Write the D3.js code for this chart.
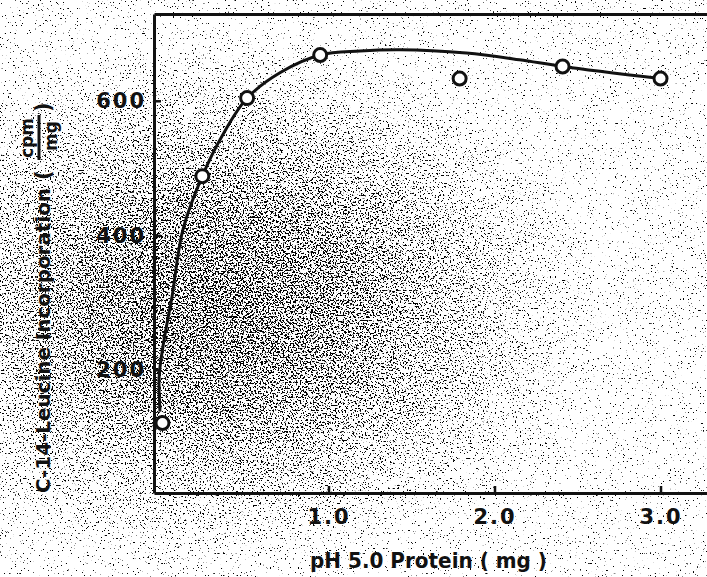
<!DOCTYPE html>
<html>
<head>
<meta charset="utf-8">
<script src="https://cdn.jsdelivr.net/npm/d3@7"></script>
<style>
  html, body { margin: 0; padding: 0; background: #fff; }
  svg { display: block; }
  .lbl { font-family: "DejaVu Sans", "Liberation Sans", sans-serif; font-weight: bold; fill: #111; }
</style>
</head>
<body>
<div id="chart"></div>
<script>
// measured points: pH 5.0 protein (mg) vs C-14 leucine incorporation (cpm/mg)
var protein = [0.0, 0.24, 0.51, 0.95, 1.79, 2.41, 3.0];
var cpm = [121, 488, 604, 668, 633, 651, 633];

// hand-drawn smooth curve, read along its path
var curveX = [-0.015, -0.02, 0.0, 0.02, 0.057, 0.123, 0.24, 0.36, 0.51, 0.71, 0.95, 1.19, 1.43, 1.83, 2.15, 2.41, 3.0];
var curveY = [138, 190, 230, 259, 308, 408, 488, 548, 604, 642, 668, 674, 676, 671, 661, 651, 633];

var xTicks = [1.0, 2.0, 3.0];
var yTicks = [200, 400, 600];

var W = 707, H = 577,
    margin = {top: 14, right: 0, bottom: 84, left: 154},
    width = W - margin.left - margin.right,
    height = H - margin.top - margin.bottom;

var svg = d3.select("#chart").append("svg")
    .attr("width", W)
    .attr("height", H);

// scanned-paper speckle (decoration only)
var defs = svg.append("defs");
var grad = defs.append("radialGradient")
    .attr("id", "shade")
    .attr("gradientUnits", "userSpaceOnUse")
    .attr("cx", 0).attr("cy", 0).attr("r", 1)
    .attr("gradientTransform", "translate(225,305) scale(380,270)");
[[0, 0.74], [0.35, 0.78], [0.7, 0.87], [1, 0.95]].forEach(function (s) {
    var v = Math.round(s[1] * 255);
    grad.append("stop").attr("offset", s[0]).attr("stop-color", d3.rgb(v, v, v));
});
var f = defs.append("filter")
    .attr("id", "speck")
    .attr("filterUnits", "userSpaceOnUse")
    .attr("x", 0).attr("y", 0).attr("width", W).attr("height", H)
    .attr("color-interpolation-filters", "sRGB");
f.append("feTurbulence").attr("type", "fractalNoise").attr("baseFrequency", 0.6)
    .attr("numOctaves", 2).attr("seed", 7).attr("result", "noise");
f.append("feColorMatrix").attr("in", "noise").attr("type", "matrix")
    .attr("values", "1 0 0 0 0  1 0 0 0 0  1 0 0 0 0  0 0 0 0 1").attr("result", "grey");
f.append("feComposite").attr("in", "grey").attr("in2", "SourceGraphic")
    .attr("operator", "arithmetic").attr("k1", 0).attr("k2", 1).attr("k3", 1).attr("k4", -1)
    .attr("result", "sum");
f.append("feColorMatrix").attr("in", "sum").attr("type", "matrix")
    .attr("values", "0 0 0 0 0  0 0 0 0 0  0 0 0 0 0  -20 0 0 0 5");
svg.append("rect").attr("width", W).attr("height", H)
    .attr("fill", "url(#shade)").attr("filter", "url(#speck)");

var g = svg.append("g")
    .attr("transform", "translate(" + margin.left + "," + margin.top + ")");

var x = d3.scaleLinear().domain([-0.051, 3.28]).range([0, width]);
var y = d3.scaleLinear().domain([17, 729]).range([height, 0]);

function styleAxis(sel) {
    sel.select(".domain").attr("stroke", "#111").attr("stroke-width", 3);
    sel.selectAll(".tick line").attr("stroke", "#111").attr("stroke-width", 2.5);
    sel.selectAll(".tick text")
        .attr("class", "lbl")
        .style("font-size", "21px")
        .style("letter-spacing", "2px");
}

g.append("g")
    .call(d3.axisTop(x).tickValues([]).tickSizeOuter(0))
    .call(styleAxis);

g.append("g")
    .attr("transform", "translate(0," + height + ")")
    .call(d3.axisBottom(x).tickValues(xTicks).tickFormat(d3.format(".1f"))
        .tickSizeInner(-7).tickSizeOuter(0).tickPadding(16))
    .call(styleAxis);

g.append("g")
    .call(d3.axisLeft(y).tickValues(yTicks).tickFormat(d3.format("d"))
        .tickSizeInner(-7).tickSizeOuter(0).tickPadding(8))
    .call(styleAxis);

var line = d3.line()
    .x(function (d) { return x(d[0]); })
    .y(function (d) { return y(d[1]); })
    .curve(d3.curveCatmullRom.alpha(0.5));

g.append("path")
    .datum(d3.zip(curveX, curveY))
    .attr("fill", "none")
    .attr("stroke", "#111")
    .attr("stroke-width", 3)
    .attr("d", line);

g.selectAll(".pt")
    .data(d3.zip(protein, cpm))
    .enter().append("circle")
    .attr("class", "pt")
    .attr("cx", function (d) { return x(d[0]); })
    .attr("cy", function (d) { return y(d[1]); })
    .attr("r", 6.5)
    .attr("fill", "#fff")
    .attr("stroke", "#111")
    .attr("stroke-width", 3);

// x title
svg.append("text")
    .attr("class", "lbl")
    .attr("x", 310).attr("y", 568)
    .attr("textLength", 237).attr("lengthAdjust", "spacingAndGlyphs")
    .style("font-size", "21px")
    .text("pH 5.0  Protein ( mg )");

// y title, rotated, with cpm/mg fraction
var yt = svg.append("g").attr("transform", "translate(50,493) rotate(-90)");
yt.append("text").attr("class", "lbl")
    .attr("x", 0).attr("y", 0)
    .attr("textLength", 305).attr("lengthAdjust", "spacingAndGlyphs")
    .style("font-size", "20px")
    .text("C-14-Leucine Incorporation");
yt.append("text").attr("class", "lbl")
    .attr("x", 313).attr("y", 0)
    .style("font-size", "21px")
    .text("(");
yt.append("text").attr("class", "lbl")
    .attr("x", 355).attr("y", -17)
    .attr("text-anchor", "middle")
    .style("font-size", "17px")
    .text("cpm");
yt.append("line")
    .attr("x1", 333).attr("x2", 378).attr("y1", -11).attr("y2", -11)
    .attr("stroke", "#111").attr("stroke-width", 3);
yt.append("text").attr("class", "lbl")
    .attr("x", 357).attr("y", 7)
    .attr("text-anchor", "middle")
    .style("font-size", "17px")
    .text("mg");
yt.append("text").attr("class", "lbl")
    .attr("x", 381).attr("y", 0)
    .style("font-size", "21px")
    .text(")");
</script>
</body>
</html>
